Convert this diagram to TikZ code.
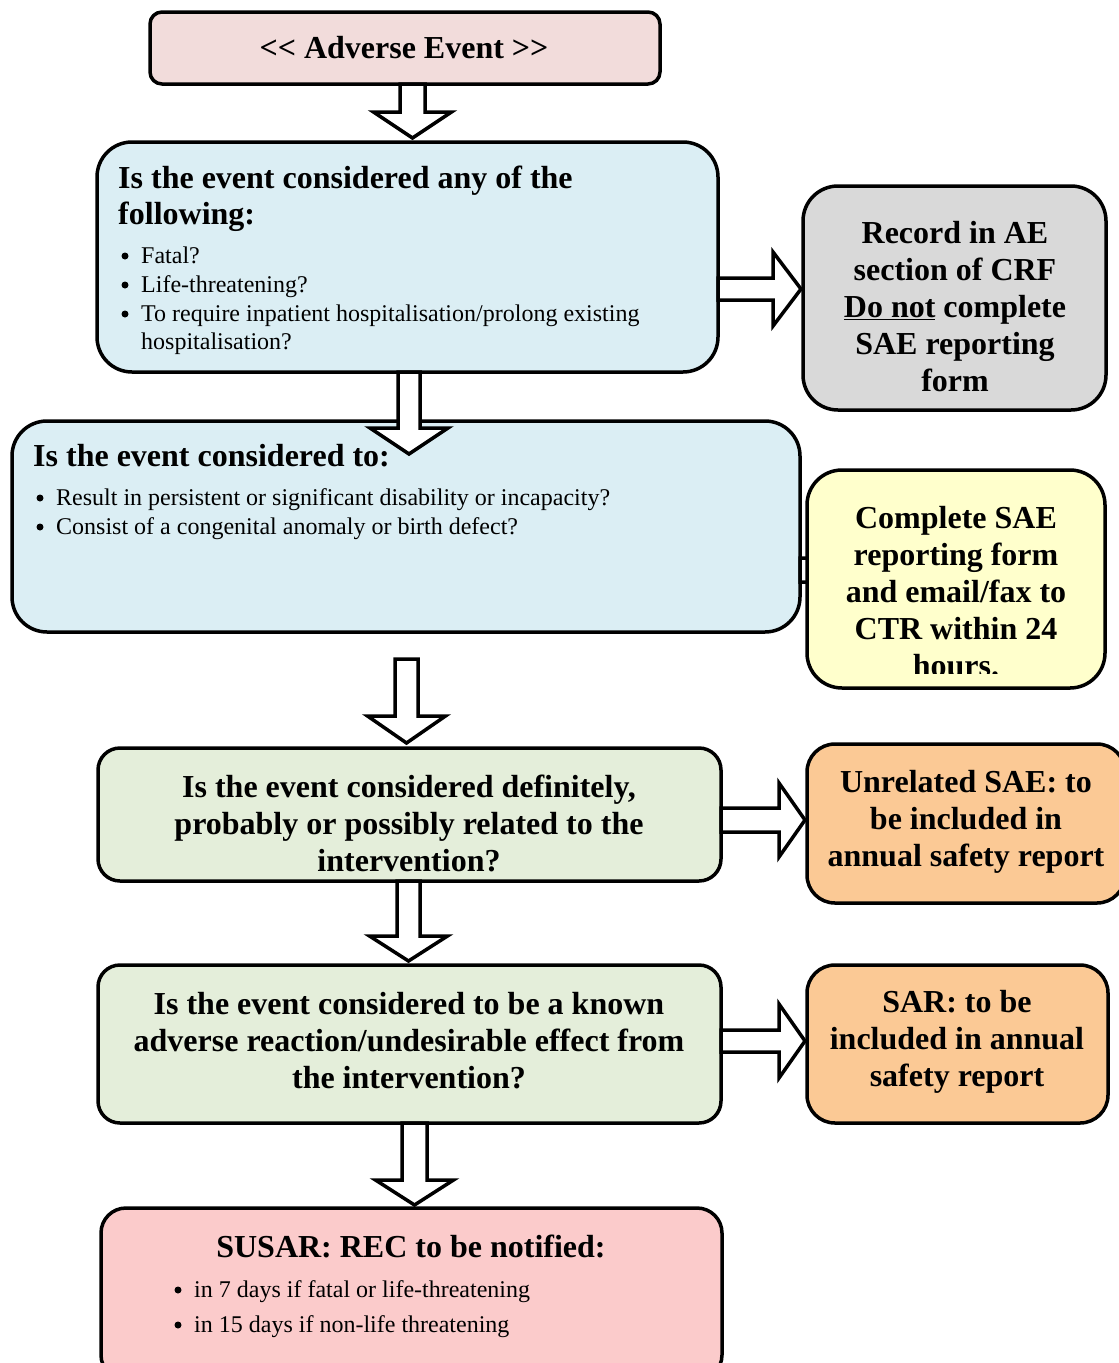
\documentclass[tikz,border=0pt]{standalone}
\usepackage{fontspec}
\setmainfont{Liberation Serif}
\definecolor{cpink}{HTML}{F2DCDB}
\definecolor{cblue}{HTML}{DBEEF4}
\definecolor{cgrey}{HTML}{D9D9D9}
\definecolor{cyel}{HTML}{FFFFCC}
\definecolor{cgreen}{HTML}{E4EEDA}
\definecolor{corange}{HTML}{FBC995}
\definecolor{crose}{HTML}{FBCBCB}
\newcommand\darr[5]{\draw[barrow] ({#1-#5},#2) -- ({#1+#5},#2) -- ({#1+#5},#3) -- ({#1+39},#3) -- (#1,#4) -- ({#1-39},#3) -- ({#1-#5},#3) -- cycle;}
\newcommand\rarr[5]{\draw[barrow] (#2,{#1-#5}) -- (#2,{#1+#5}) -- (#3,{#1+#5}) -- (#3,{#1+37}) -- (#4,#1) -- (#3,{#1-37}) -- (#3,{#1-#5}) -- cycle;}
\begin{document}
\begin{tikzpicture}[x=1pt,y=-1pt,
  box/.style={draw=black, line width=3.5pt, inner sep=0pt},
  barrow/.style={draw=black, line width=3.5pt, fill=white, line join=miter},
  bigb/.style={font=\fontsize{32}{37}\selectfont\bfseries, align=center, inner sep=0pt},
  head/.style={font=\fontsize{32}{36}\selectfont\bfseries, anchor=base west, inner sep=0pt},
  smt/.style={font=\fontsize{24}{29}\selectfont, anchor=base west, inner sep=0pt},
  bul/.style={circle, fill=black, inner sep=0pt, minimum size=7pt}]
\clip (0,0) rectangle (1119,1363);
% boxes
\node[box, fill=cpink, rounded corners=12pt, minimum width=510pt, minimum height=72pt] (adv) at (405,48) {};
\node[box, fill=cblue, rounded corners=35pt, minimum width=621pt, minimum height=230pt] (q1) at (407.5,257) {};
\node[box, fill=cgrey, rounded corners=35pt, minimum width=303pt, minimum height=224pt] (rec) at (954.5,298) {};
\node[box, fill=cblue, rounded corners=35pt, minimum width=788pt, minimum height=211pt] (q2) at (406,526.5) {};
% hidden stub arrow behind yellow box
\rarr{570}{800}{850}{880}{12}
\node[box, fill=cyel, rounded corners=35pt, minimum width=298pt, minimum height=218pt] (sae) at (956,579) {};
\node[box, fill=cgreen, rounded corners=22pt, minimum width=623pt, minimum height=133pt] (q3) at (409.5,814.5) {};
\node[box, fill=corange, rounded corners=28pt, minimum width=318pt, minimum height=159pt] (unrel) at (966,823.5) {};
\node[box, fill=cgreen, rounded corners=22pt, minimum width=623pt, minimum height=158pt] (q4) at (409.5,1044) {};
\node[box, fill=corange, rounded corners=28pt, minimum width=301pt, minimum height=158pt] (sar) at (957.5,1044) {};
\node[box, fill=crose, rounded corners=25pt, minimum width=621pt, minimum height=172pt] (susar) at (411.5,1294) {};
% arrows
\darr{412.5}{84}{112}{138}{12.5}
\rarr{289}{718}{773}{801}{11}
\darr{409}{372}{428}{454}{11}
\darr{406.5}{659}{716}{743}{11.5}
\rarr{820}{721}{779}{805}{12}
\darr{408.5}{881}{936}{961}{11.5}
\rarr{1041}{721}{779}{805}{11}
\darr{414.5}{1123}{1180}{1205}{12.5}
% texts
\node[font=\fontsize{32}{36}\selectfont\bfseries, inner sep=0pt] (advt) at (404,48) {<\kern0pt< Adverse Event >\kern0pt>};
\node[head] (q1h1) at (118,188) {Is the event considered any of the};
\node[head] (q1h2) at (118,224) {following:};
\node[bul] (q1b1) at (125,256) {};
\node[smt] (q1t1) at (141,263) {Fatal?};
\node[bul] (q1b2) at (125,285) {};
\node[smt] (q1t2) at (141,292) {Life-threatening?};
\node[bul] (q1b3) at (125,314) {};
\node[smt] (q1t3) at (141,321) {To require inpatient hospitalisation/prolong existing};
\node[smt] (q1t4) at (141,349) {hospitalisation?};
\node[bigb] (rect) at (955,307) {Record in AE\\section of CRF\\\underline{Do not} complete\\SAE reporting\\form};
\node[head] (q2h) at (33,466) {Is the event considered to:};
\node[bul] (q2b1) at (40,498) {};
\node[smt] (q2t1) at (56,505) {Result in persistent or significant disability or incapacity?};
\node[bul] (q2b2) at (40,527) {};
\node[smt] (q2t2) at (56,534) {Consist of a congenital anomaly or birth defect?};
\begin{scope}
\clip (807,470) rectangle (1105,673);
\node[bigb] (saet) at (956,592) {Complete SAE\\reporting form\\and email/fax to\\CTR within 24\\hours.};
\end{scope}
\node[bigb] (q3t) at (409,823) {Is the event considered definitely,\\probably or possibly related to the\\intervention?};
\node[bigb] (unrelt) at (966,822) {Unrelated SAE: to\\be included in\\annual safety report};
\node[bigb] (q4t) at (409,1041) {Is the event considered to be a known\\adverse reaction/undesirable effect from\\the intervention?};
\node[bigb] (sart) at (957,1042) {SAR: to be\\included in annual\\safety report};
\node[font=\fontsize{32}{36}\selectfont\bfseries, inner sep=0pt] (susarh) at (411,1246) {SUSAR: REC to be notified:};
\node[bul] (sb1) at (178,1290) {};
\node[smt] (st1) at (194,1297) {in 7 days if fatal or life-threatening};
\node[bul] (sb2) at (178,1325) {};
\node[smt] (st2) at (194,1332) {in 15 days if non-life threatening};
\end{tikzpicture}
\end{document}
